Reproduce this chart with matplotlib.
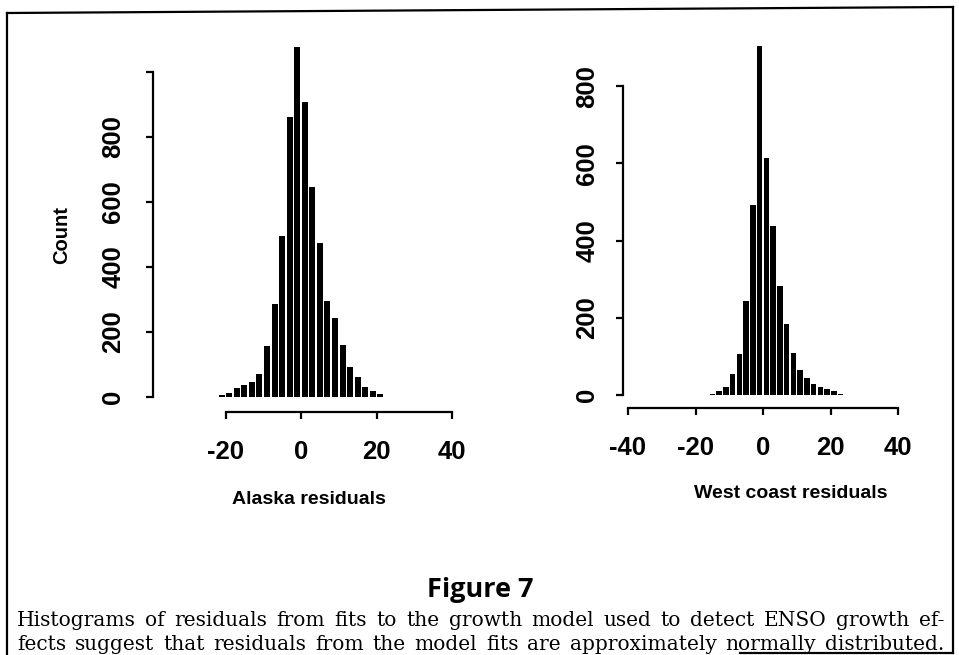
import matplotlib
matplotlib.use('Agg')
import matplotlib.pyplot as plt
import numpy as np
from matplotlib.lines import Line2D

# Counts per bin (bin width 2)
bin_width = 2
alaska_first_edge = -22
alaska_counts = [6, 10, 26, 35, 46, 70, 157, 284, 494, 860, 1075, 908,
                 645, 474, 296, 242, 159, 91, 62, 29, 18, 9]
west_first_edge = -16
west_counts = [3, 10, 21, 54, 106, 243, 492, 905, 614, 438, 282, 184,
               109, 65, 44, 28, 21, 16, 10, 2]

alaska_xticks = [-20, 0, 20, 40]
west_xticks = [-40, -20, 0, 20, 40]
alaska_yticks = [0, 200, 400, 600, 800, 1000]
alaska_yticklabels = ['0', '200', '400', '600', '800', '']
west_yticks = [0, 200, 400, 600, 800]
west_yticklabels = ['0', '200', '400', '600', '800']

caption_title = 'Figure 7'
caption_lines = [
    'Histograms of residuals from fits to the growth model used to detect ENSO growth ef-',
    'fects suggest that residuals from the model fits are approximately normally distributed.',
]

W, H = 959, 655
fig = plt.figure(figsize=(W / 100, H / 100), dpi=100)
fig.patch.set_facecolor('white')

SANS = ['Liberation Sans', 'DejaVu Sans']


def add_panel(x0, xs, y0, ys, xlim, ylim):
    # x0/y0: pixel position of data (0, 0); xs/ys: pixels per data unit
    left = x0 + xlim[0] * xs
    right = x0 + xlim[1] * xs
    bottom = y0 - ylim[0] * ys
    top = y0 - ylim[1] * ys
    ax = fig.add_axes([left / W, 1 - bottom / H, (right - left) / W, (bottom - top) / H])
    ax.set_xlim(*xlim)
    ax.set_ylim(*ylim)
    ax.patch.set_visible(False)
    return ax


def style_panel(ax, spine_x, spine_y, xticks, xbounds, yticks, ylabels, ybounds, ypad):
    for s in ['top', 'right']:
        ax.spines[s].set_visible(False)
    ax.spines['left'].set_position(('data', spine_x))
    ax.spines['bottom'].set_position(('data', spine_y))
    ax.spines['left'].set_bounds(*ybounds)
    ax.spines['bottom'].set_bounds(*xbounds)
    for s in ['left', 'bottom']:
        ax.spines[s].set_linewidth(1.6)
    ax.set_xticks(xticks)
    ax.set_xticklabels([str(t) for t in xticks])
    ax.set_yticks(yticks)
    ax.set_yticklabels(ylabels)
    ax.tick_params(length=5, width=1.6, direction='out')
    ax.tick_params(axis='x', pad=15)
    ax.tick_params(axis='y', pad=ypad)
    for lab in ax.get_xticklabels() + ax.get_yticklabels():
        lab.set_fontfamily(SANS)
        lab.set_fontweight('bold')
        lab.set_fontsize(18.5)
    for lab in ax.get_yticklabels():
        lab.set_rotation(90)
        lab.set_va('center')


# Alaska panel
ax1 = add_panel(301, 3.775, 396.7, 0.325, (-25, 45), (-40, 1100))
edges = alaska_first_edge + bin_width * np.arange(len(alaska_counts))
ax1.bar(edges + bin_width / 2, alaska_counts, width=bin_width * 0.8, color='black')
style_panel(ax1, -39.2, -47, alaska_xticks, (-20, 40),
            alaska_yticks, alaska_yticklabels, (0, 1000), 15)

# West coast panel
ax2 = add_panel(763, 3.375, 395, 0.386, (-45, 45), (-40, 950))
edges = west_first_edge + bin_width * np.arange(len(west_counts))
ax2.bar(edges + bin_width / 2, west_counts, width=bin_width * 0.8, color='black')
style_panel(ax2, -41.5, -33.7, west_xticks, (-40, 40),
            west_yticks, west_yticklabels, (0, 800), 12)

# axis titles
fig.text(309 / W, 1 - 500 / H, 'Alaska residuals', family=SANS, fontweight='bold',
         fontsize=14, ha='center', va='center')
fig.text(791 / W, 1 - 493 / H, 'West coast residuals', family=SANS, fontweight='bold',
         fontsize=14, ha='center', va='center')
fig.text(62 / W, 1 - 235 / H, 'Count', family=SANS, fontweight='bold',
         fontsize=14.5, ha='center', va='center', rotation=90)

# caption
fig.text(480 / W, 1 - 590 / H, caption_title, family=['Open Sans', 'DejaVu Sans'],
         fontweight='bold', fontsize=19.5, ha='center', va='center')

renderer = fig.canvas.get_renderer()


def justified(text, x_left, x_right, y):
    words = text.split()
    arts = [fig.text(0, 1 - y / H, w, family='DejaVu Serif', fontsize=14.5,
                     ha='left', va='center') for w in words]
    widths = [a.get_window_extent(renderer).width for a in arts]
    gap = (x_right - x_left - sum(widths)) / (len(words) - 1)
    x = x_left
    for a, w in zip(arts, widths):
        a.set_x(x / W)
        x += w + gap


justified(caption_lines[0], 17, 944, 620)
justified(caption_lines[1], 17, 944, 645)

# scanned page frame
frame = [((7, 953), (13, 7)), ((7, 7), (13, 655)), ((953, 953), (7, 653)),
         ((740, 953), (653, 653))]
for xs, ys in frame:
    fig.add_artist(Line2D([x / W for x in xs], [1 - y / H for y in ys],
                          color='black', linewidth=1.6))

fig.savefig('out.png', dpi=100, facecolor='white')
